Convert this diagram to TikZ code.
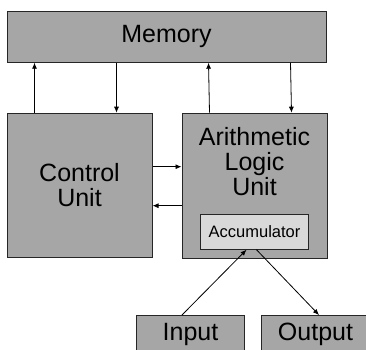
\documentclass[tikz,border=0pt]{standalone}
\usepackage{fontspec}
\setmainfont{Liberation Sans}
\usetikzlibrary{arrows.meta, positioning}
\tikzset{
    unit_box/.style={rectangle, draw=black!85, line width=1pt, fill=gray!70, font=\fontsize{25}{25}\selectfont, align=center, inner sep=0pt},
    acc_box/.style={rectangle, draw=black!85, line width=1pt, fill=gray!30, font=\fontsize{16.5}{18}\selectfont, inner sep=0pt},
    arrow/.style={-{Latex[length=6pt, width=5pt]}, line width=0.8pt}
}

\begin{document}
\begin{tikzpicture}[node distance=29pt and 16pt]
    \useasboundingbox (0,0) rectangle (366pt,-349pt);
			\node (memory) [unit_box, minimum width=319pt, minimum height=51pt] at (166.5pt,-36.7pt) {Memory};
			\node (control) [unit_box, minimum width=145pt, minimum height=144pt, below=50pt of memory.south west, anchor=north west] {Control\\Unit};
			\node (alu) [unit_box, minimum width=145pt, minimum height=145pt, right=29pt of control.north east, anchor=north west] {};
			\node (alutext) [below=14pt of alu.north, inner sep=0pt, align=center, font=\fontsize{25}{25}\selectfont] {Arithmetic\\Logic\\Unit};
			\node (acc) [acc_box, minimum width=108pt, minimum height=35pt, above=9pt of alu.south] {Accumulator};
			\node (input) [unit_box, minimum width=108pt, minimum height=38pt, anchor=north west] at (136pt,-315pt) {Input};
			\node (output) [unit_box, minimum width=108pt, minimum height=38pt, right=of input] {Output};

			\draw [arrow] ([xshift=28pt]control.north west) -- ([xshift=28pt]memory.south west);
			\draw [arrow] ([xshift=110pt]memory.south west) -- ([xshift=110pt]control.north west);
			\draw [arrow] ([xshift=-118pt]alu.north east) -- ([xshift=-118pt]memory.south east);
			\draw [arrow] ([xshift=-36pt]memory.south east) -- ([xshift=-36pt]alu.north east);
			\draw [arrow] ([yshift=-54pt]control.north east) -- ([yshift=-54pt]alu.north west);
			\draw [arrow] ([yshift=-93pt]alu.north west) -- ([yshift=-93pt]control.north east);
			\draw [arrow] ([xshift=46pt]input.north west) -- ([xshift=-8pt]acc.south);
			\draw [arrow] ([xshift=2pt]acc.south) -- ([xshift=58pt]output.north west);
		\end{tikzpicture}
\end{document}
